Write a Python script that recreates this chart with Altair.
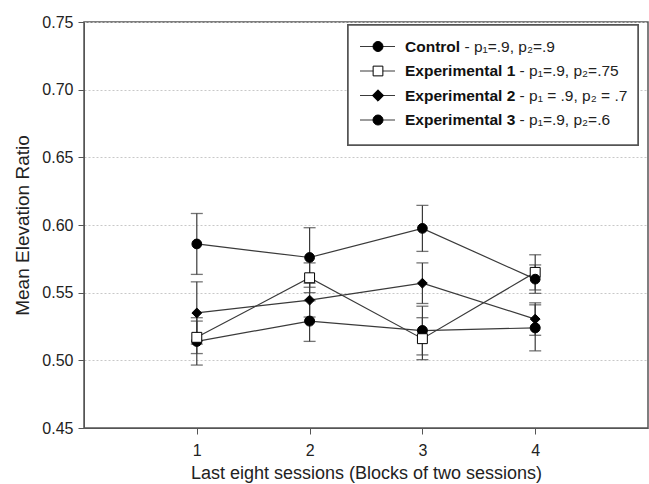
import altair as alt
import pandas as pd

sessions = [1, 2, 3, 4]
groups = ["Control", "Experimental 1", "Experimental 2", "Experimental 3"]
group_params = ["- p\u2081=.9, p\u2082=.9", "- p\u2081=.9, p\u2082=.75",
                "- p\u2081 = .9, p\u2082 = .7", "- p\u2081=.9, p\u2082=.6"]
control = [0.514, 0.529, 0.522, 0.524]
control_err = [0.0175, 0.015, 0.018, 0.017]
exp1 = [0.517, 0.561, 0.516, 0.565]
exp1_err = [0.012, 0.011, 0.0155, 0.013]
exp2 = [0.535, 0.5445, 0.557, 0.5305]
exp2_err = [0.023, 0.0125, 0.015, 0.012]
exp3 = [0.586, 0.576, 0.5975, 0.560]
exp3_err = [0.0225, 0.022, 0.017, 0.0105]
y_ticks = [0.45, 0.50, 0.55, 0.60, 0.65, 0.70, 0.75]
x_ticks = [1, 2, 3, 4]

shapes = ["circle", "square", "diamond", "circle"]
fills = ["black", "white", "black", "black"]
sizes = [100, 95, 130, 100]

rows = []
for g, vals, errs in zip(groups, [control, exp1, exp2, exp3],
                         [control_err, exp1_err, exp2_err, exp3_err]):
    for s, v, e in zip(sessions, vals, errs):
        rows.append({"session": s, "group": g, "value": v, "lo": v - e, "hi": v + e,
                     "order": groups.index(g)})
df = pd.DataFrame(rows)

FONT = "Liberation Sans"
LINE = "#3a3a3a"

xs = alt.Scale(domain=[0, 5], nice=False)
ys = alt.Scale(domain=[0.45, 0.75], nice=False, zero=False)
shape_scale = alt.Scale(domain=groups, range=shapes)
fill_scale = alt.Scale(domain=groups, range=fills)
size_scale = alt.Scale(domain=groups, range=sizes)

base = alt.Chart(df)

lines = base.mark_line(color=LINE, strokeWidth=1.2).encode(
    x=alt.X("session:Q", scale=xs,
            axis=alt.Axis(values=x_ticks, title="Last eight sessions (Blocks of two sessions)",
                          grid=False, tickSize=6, labelPadding=8, labelFontSize=16,
                          titleFontSize=18, titleFontWeight="normal", titleY=45,
                          titleBaseline="middle", domainColor="#555", tickColor="#555",
                          labelColor="#222", titleColor="#222", format="d")),
    y=alt.Y("value:Q", scale=ys,
            axis=alt.Axis(values=y_ticks, title="Mean Elevation Ratio", format=".2f",
                          grid=True, gridDash=[2, 2], gridColor="#c8c8c8", gridWidth=1,
                          tickSize=6, labelPadding=5, labelFontSize=16,
                          titleFontSize=19, titleFontWeight="normal",
                          titleX=-62, titleY=203, titleAngle=270, titleAlign="center",
                          titleBaseline="middle", domainColor="#555", tickColor="#555",
                          labelColor="#222", titleColor="#222")),
    detail="group:N",
)

rules = base.mark_rule(color=LINE, strokeWidth=1.2).encode(
    x=alt.X("session:Q", scale=xs), y=alt.Y("lo:Q", scale=ys), y2="hi:Q")
cap_lo = base.mark_tick(color=LINE, orient="horizontal", size=12, thickness=1.3).encode(
    x=alt.X("session:Q", scale=xs), y=alt.Y("lo:Q", scale=ys))
cap_hi = base.mark_tick(color=LINE, orient="horizontal", size=12, thickness=1.3).encode(
    x=alt.X("session:Q", scale=xs), y=alt.Y("hi:Q", scale=ys))

points = base.mark_point(filled=True, stroke="black", strokeWidth=1, opacity=1).encode(
    x=alt.X("session:Q", scale=xs),
    y=alt.Y("value:Q", scale=ys),
    shape=alt.Shape("group:N", scale=shape_scale, legend=None),
    fill=alt.Fill("group:N", scale=fill_scale, legend=None),
    size=alt.Size("group:N", scale=size_scale, legend=None),
    order="order:Q",
)

# ---- manual legend (decoration, pixel positions within plot area) ----
bold_w = {c: w for c, w in zip(
    "ABCDEFGHIJKLMNOPQRSTUVWXYZabcdefghijklmnopqrstuvwxyz0123456789 ",
    [722, 722, 722, 722, 667, 611, 778, 722, 278, 556, 722, 611, 833, 722, 778, 667, 778, 722,
     667, 611, 722, 667, 944, 667, 667, 611,
     556, 611, 556, 611, 556, 333, 611, 611, 278, 278, 556, 278, 889, 611, 611, 611, 611, 389,
     556, 333, 611, 556, 778, 556, 556, 500] + [556] * 10 + [278])}
LFS = 15.5
leg_layers = []
box = alt.Chart(df).mark_rect(fill="white", stroke="#555", strokeWidth=1.5).encode(
    x=alt.value(264), x2=alt.value(554), y=alt.value(3), y2=alt.value(123))
leg_layers.append(box)
for i, (g, p) in enumerate(zip(groups, group_params)):
    yy = 24.5 + 24.5 * i
    one = pd.DataFrame({"g": [g], "p": [p]})
    c = alt.Chart(one)
    leg_layers.append(c.mark_rule(color=LINE, strokeWidth=1.2).encode(
        x=alt.value(276), x2=alt.value(311), y=alt.value(yy)))
    leg_layers.append(c.mark_point(filled=True, stroke="black", strokeWidth=1, opacity=1,
                                   shape=shapes[i], fill=fills[i], size=sizes[i]).encode(
        x=alt.value(294), y=alt.value(yy)))
    leg_layers.append(c.mark_text(align="left", baseline="middle", font=FONT, fontSize=LFS,
                                  fontWeight="bold", color="#111").encode(
        x=alt.value(321), y=alt.value(yy), text="g:N"))
    w = (sum(bold_w.get(ch, 556) for ch in g) + 278) / 1000 * LFS
    leg_layers.append(c.mark_text(align="left", baseline="middle", font=FONT, fontSize=LFS,
                                  color="#222").encode(
        x=alt.value(321 + w), y=alt.value(yy), text="p:N"))

chart = alt.layer(lines, rules, cap_lo, cap_hi, points, *leg_layers).properties(
    width=564, height=406,
    autosize=alt.AutoSizeParams(type="none"),
    padding={"left": 84, "top": 22, "right": 1, "bottom": 56},
).configure(font=FONT).configure_view(stroke="#555", strokeWidth=1.5).configure_axis(
    labelFont=FONT, titleFont=FONT)

chart.save("out.html", embed_options={"renderer": "svg", "actions": False})
